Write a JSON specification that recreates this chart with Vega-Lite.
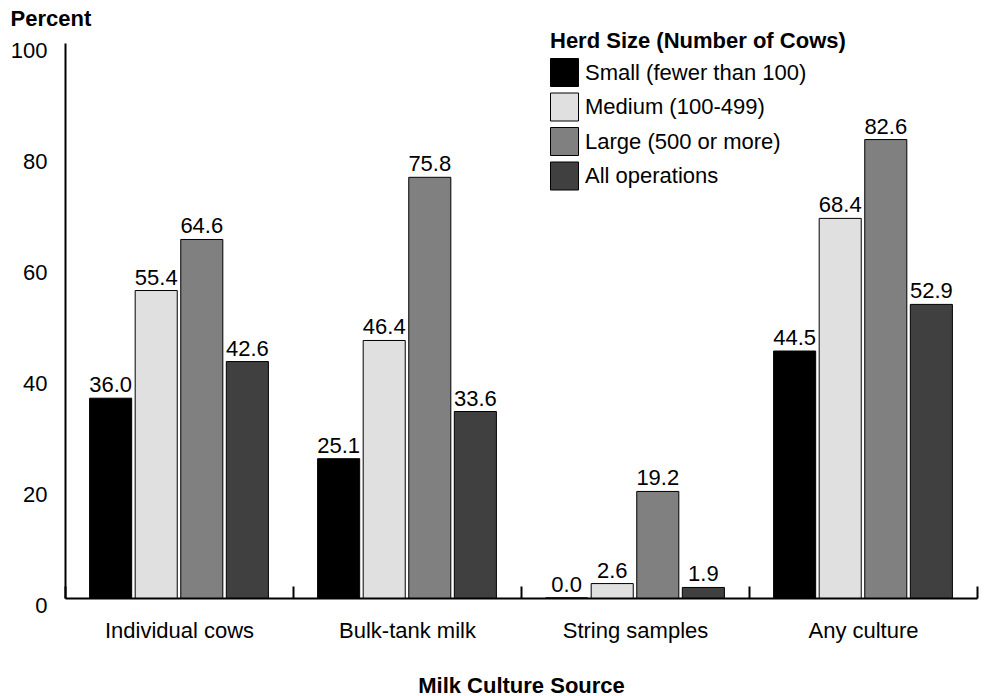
{
  "$schema": "https://vega.github.io/schema/vega-lite/v6.json",
  "autosize": "none",
  "width": 912,
  "height": 555,
  "padding": {"left": 65, "top": 43, "right": 7, "bottom": 98},
  "background": "white",
  "config": {
    "font": "Liberation Sans",
    "view": {"stroke": null}
  },
  "data": {
    "values": [
      {"source": "Individual cows", "herd": "Small (fewer than 100)", "pct": 36.0},
      {"source": "Individual cows", "herd": "Medium (100-499)", "pct": 55.4},
      {"source": "Individual cows", "herd": "Large (500 or more)", "pct": 64.6},
      {"source": "Individual cows", "herd": "All operations", "pct": 42.6},
      {"source": "Bulk-tank milk", "herd": "Small (fewer than 100)", "pct": 25.1},
      {"source": "Bulk-tank milk", "herd": "Medium (100-499)", "pct": 46.4},
      {"source": "Bulk-tank milk", "herd": "Large (500 or more)", "pct": 75.8},
      {"source": "Bulk-tank milk", "herd": "All operations", "pct": 33.6},
      {"source": "String samples", "herd": "Small (fewer than 100)", "pct": 0.0},
      {"source": "String samples", "herd": "Medium (100-499)", "pct": 2.6},
      {"source": "String samples", "herd": "Large (500 or more)", "pct": 19.2},
      {"source": "String samples", "herd": "All operations", "pct": 1.9},
      {"source": "Any culture", "herd": "Small (fewer than 100)", "pct": 44.5},
      {"source": "Any culture", "herd": "Medium (100-499)", "pct": 68.4},
      {"source": "Any culture", "herd": "Large (500 or more)", "pct": 82.6},
      {"source": "Any culture", "herd": "All operations", "pct": 52.9}
    ]
  },
  "encoding": {
    "x": {
      "field": "source",
      "type": "nominal",
      "sort": ["Individual cows", "Bulk-tank milk", "String samples", "Any culture"],
      "scale": {"paddingInner": 0, "paddingOuter": 0},
      "axis": {
        "title": "Milk Culture Source",
        "titleFontSize": 22,
        "titleFontWeight": "bold",
        "titleColor": "black",
        "titlePadding": 34,
        "labelAngle": 0,
        "labelFontSize": 22,
        "labelColor": "black",
        "labelPadding": 34,
        "domainColor": "black",
        "domainWidth": 2,
        "ticks": true,
        "tickBand": "extent",
        "tickSize": -12,
        "tickWidth": 2,
        "tickColor": "black"
      }
    },
    "xOffset": {
      "field": "herd",
      "type": "nominal",
      "sort": ["Small (fewer than 100)", "Medium (100-499)", "Large (500 or more)", "All operations"],
      "scale": {"paddingInner": 0.077, "paddingOuter": 0.54}
    },
    "y": {
      "field": "pct",
      "type": "quantitative",
      "scale": {"domain": [0, 100]},
      "axis": {
        "title": "Percent",
        "titleAngle": 0,
        "titleAlign": "left",
        "titleBaseline": "alphabetic",
        "titleX": -55,
        "titleY": -18,
        "titleFontSize": 22,
        "titleFontWeight": "bold",
        "titleColor": "black",
        "values": [0, 20, 40, 60, 80, 100],
        "labelFontSize": 22,
        "labelColor": "black",
        "labelPadding": 18,
        "labelOffset": 7,
        "ticks": false,
        "grid": false,
        "domainColor": "black",
        "domainWidth": 2
      }
    }
  },
  "layer": [
    {
      "mark": {"type": "bar", "stroke": "black", "strokeWidth": 1},
      "encoding": {
        "color": {
          "field": "herd",
          "type": "nominal",
          "sort": ["Small (fewer than 100)", "Medium (100-499)", "Large (500 or more)", "All operations"],
          "scale": {
            "domain": ["Small (fewer than 100)", "Medium (100-499)", "Large (500 or more)", "All operations"],
            "range": ["#000000", "#e0e0e0", "#808080", "#404040"]
          },
          "legend": {
            "title": "Herd Size (Number of Cows)",
            "orient": "none",
            "legendX": 485,
            "legendY": -12,
            "titleFontSize": 22,
            "titleFontWeight": "bold",
            "titleColor": "black",
            "titlePadding": 5,
            "titleLimit": 600,
            "labelFontSize": 22,
            "labelColor": "black",
            "labelOffset": 6,
            "symbolType": "square",
            "symbolSize": 784,
            "symbolStrokeColor": "black",
            "symbolStrokeWidth": 1,
            "rowPadding": 1.5,
            "labelLimit": 400
          }
        }
      }
    },
    {
      "mark": {"type": "text", "baseline": "alphabetic", "dy": -6, "fontSize": 22, "color": "black"},
      "encoding": {
        "text": {"field": "pct", "type": "quantitative", "format": ".1f"}
      }
    }
  ]
}
